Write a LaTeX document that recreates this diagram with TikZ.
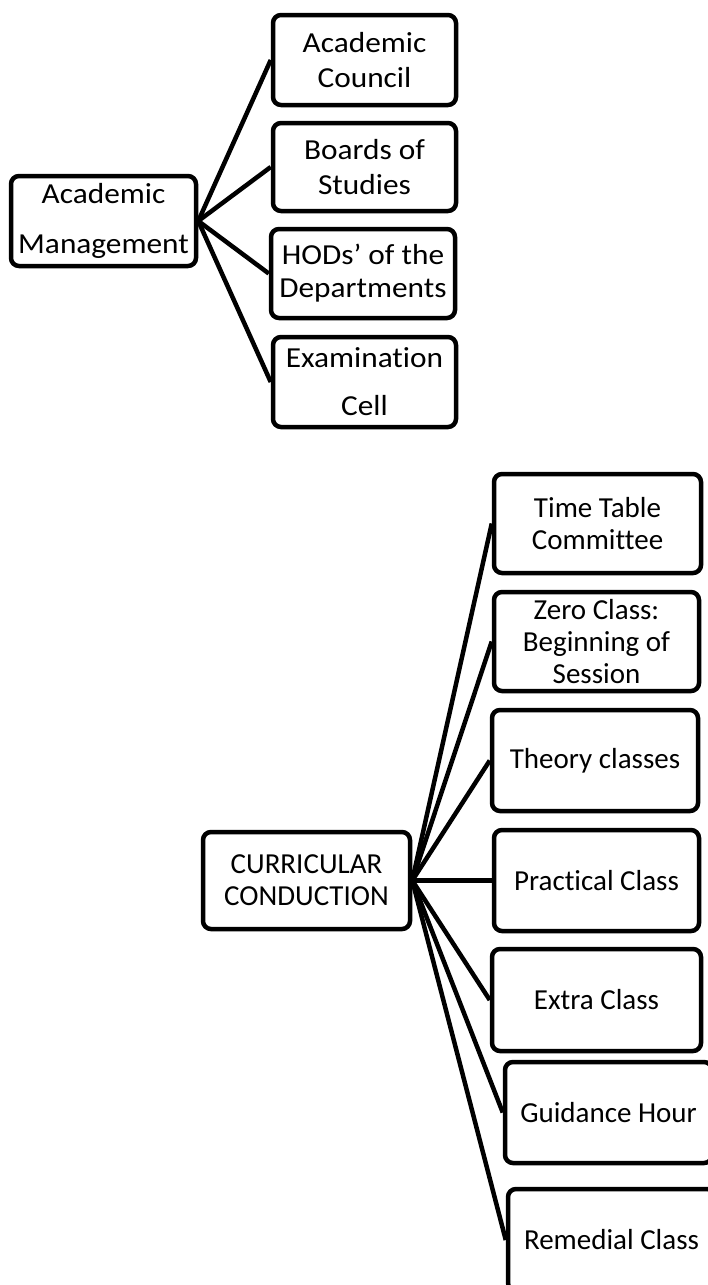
\documentclass[tikz,border=0pt]{standalone}
\usepackage{fontspec}
\setmainfont[Ligatures=NoCommon]{Carlito}
\newfontfamily\widefont[FakeStretch=1.08,Ligatures=NoCommon]{Carlito}
\begin{document}
\begin{tikzpicture}[x=1pt,y=-1pt,
  box/.style={draw=black,line width=4.5pt,rounded corners=8pt,fill=white,inner sep=0pt,align=center,text=black},
  topfont/.style={font=\widefont\fontsize{29}{#1}\selectfont},
  botfont/.style={font=\fontsize{29}{32}\selectfont},
  link/.style={draw=black,line width=4.5pt}]
\useasboundingbox (0,0) rectangle (707,1285);
\fill[white] (0,0) rectangle (707,1285);
% top tree
\node[box,topfont=50,minimum width=185pt,minimum height=90pt] (am) at (103.5,221) {Academic\\Management};
\node[box,topfont=35,minimum width=183pt,minimum height=90pt] (ac) at (364.5,60) {Academic\\Council};
\node[box,topfont=35,minimum width=183pt,minimum height=88pt] (bos) at (364.5,167) {Boards of\\Studies};
\node[box,topfont=33,minimum width=184pt,minimum height=89pt] (hod) at (363,273.5) {HODs’ of the\\Departments};
\node[box,topfont=48,minimum width=183pt,minimum height=90pt] (ec) at (364.5,382) {Examination\\Cell};
\foreach \t in {ac,bos,hod,ec} \draw[link] (am.east) -- (\t.west);
% bottom tree
\node[box,botfont,minimum width=207pt,minimum height=97pt] (cc) at (306.5,880.5) {CURRICULAR\\CONDUCTION};
\node[box,botfont,minimum width=207pt,minimum height=99pt] (ttc) at (597.5,523.5) {Time Table\\Committee};
\node[box,botfont,minimum width=205pt,minimum height=99pt] (zc) at (596.5,641.5) {Zero Class:\\Beginning of\\Session};
\node[box,botfont,minimum width=206pt,minimum height=101pt] (th) at (595,760.5) {Theory classes};
\node[box,botfont,minimum width=205pt,minimum height=101pt] (pc) at (596.5,880.5) {Practical Class};
\node[box,botfont,minimum width=209pt,minimum height=102pt] (ex) at (596.5,1000) {Extra Class};
\node[box,botfont,minimum width=207pt,minimum height=101pt] (gh) at (608.5,1112.5) {Guidance Hour};
\node[box,botfont,minimum width=207pt,minimum height=102pt] (rc) at (611.5,1240) {Remedial Class};
\foreach \t in {ttc,zc,th,pc,ex,gh,rc} \draw[link] (cc.east) -- (\t.west);
\end{tikzpicture}
\end{document}
